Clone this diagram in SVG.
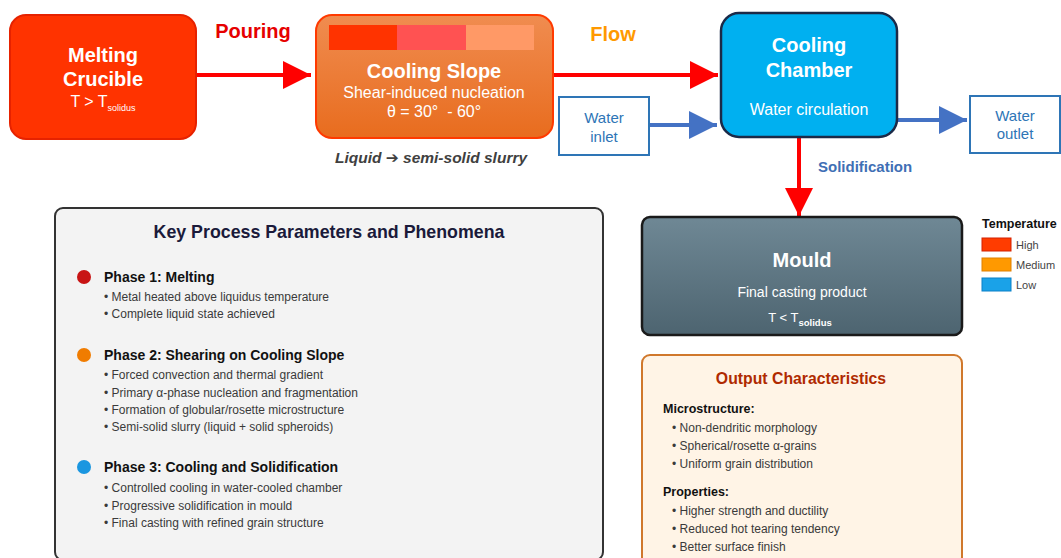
<svg xmlns="http://www.w3.org/2000/svg" width="1061" height="558" viewBox="0 0 1061 558">
  <defs>
    <linearGradient id="slopeGrad" x1="0" y1="0" x2="0" y2="1">
      <stop offset="0" stop-color="#f08c50"/>
      <stop offset="1" stop-color="#e86c1e"/>
    </linearGradient>
    <linearGradient id="mouldGrad" x1="0" y1="0" x2="0" y2="1">
      <stop offset="0" stop-color="#6f8895"/>
      <stop offset="1" stop-color="#4d6470"/>
    </linearGradient>
    <marker id="headRed" viewBox="0 0 10 10" refX="10" refY="5" markerWidth="7" markerHeight="7" markerUnits="strokeWidth" orient="auto">
      <path d="M0,0 L10,5 L0,10 Z" fill="#ff0000"/>
    </marker>
    <marker id="headBlue" viewBox="0 0 10 10" refX="10" refY="5" markerWidth="7" markerHeight="7" markerUnits="strokeWidth" orient="auto">
      <path d="M0,0 L10,5 L0,10 Z" fill="#4472c4"/>
    </marker>
  </defs>
  <style>
    text { font-family: "Liberation Sans", Arial, sans-serif; }
    .title { font-weight: bold; font-size: 20px; fill: #ffffff; text-anchor: middle; }
    .sub { font-size: 16px; fill: #ffffff; text-anchor: middle; }
    .water { font-size: 15px; fill: #2e75b6; text-anchor: middle; }
    .waterBox { fill: #ffffff; stroke: #2e75b6; stroke-width: 2; }
    .red { stroke: #ff0000; stroke-width: 4; fill: none; }
    .blue { stroke: #4472c4; stroke-width: 4; fill: none; }
    .phase { font-weight: bold; font-size: 14px; fill: #111111; }
    .bullet { font-size: 12px; fill: #3a3a3a; }
    .head { font-weight: bold; font-size: 12.5px; fill: #111111; }
    .legend { font-size: 11px; fill: #444444; }
  </style>

  <!-- connectors -->
  <g id="connectors">
    <line class="red" x1="196" y1="75" x2="311" y2="75" marker-end="url(#headRed)"/>
    <line class="red" x1="553" y1="75" x2="718" y2="75" marker-end="url(#headRed)"/>
    <line class="blue" x1="649" y1="125" x2="717" y2="125" marker-end="url(#headBlue)"/>
    <line class="blue" x1="897" y1="120" x2="967" y2="120" marker-end="url(#headBlue)"/>
    <line class="red" x1="799" y1="137" x2="799" y2="216" marker-end="url(#headRed)"/>
    <text x="253" y="38" font-weight="bold" font-size="20" fill="#e60000" text-anchor="middle">Pouring</text>
    <text x="613" y="41" font-weight="bold" font-size="20" fill="#ff9900" text-anchor="middle">Flow</text>
    <text x="818" y="172" font-weight="bold" font-size="15" fill="#3f6fb5">Solidification</text>
  </g>

  <!-- melting crucible -->
  <g id="crucible">
    <rect x="10" y="15" width="186" height="124" rx="16" fill="#ff3300" stroke="#e62200" stroke-width="2"/>
    <text class="title" x="103" y="62">Melting</text>
    <text class="title" x="103" y="86">Crucible</text>
    <text class="sub" x="103" y="107" font-size="13">T &gt; T<tspan font-size="9" dy="4">solidus</tspan></text>
  </g>

  <!-- cooling slope -->
  <g id="slope">
    <rect x="316" y="15" width="237" height="123" rx="16" fill="url(#slopeGrad)" stroke="#ff3a00" stroke-width="2"/>
    <rect x="329" y="25" width="68" height="25" fill="#ff3300"/>
    <rect x="397" y="25" width="69" height="25" fill="#ff5252"/>
    <rect x="466" y="25" width="68" height="25" fill="#ff9966"/>
    <text class="title" x="434" y="78">Cooling Slope</text>
    <text class="sub" x="434" y="98">Shear-induced nucleation</text>
    <text class="sub" x="434" y="117" style="white-space:pre">θ = 30°  - 60°</text>
    <text x="431" y="163" font-weight="bold" font-style="italic" font-size="15.5" fill="#404040" text-anchor="middle">Liquid <tspan font-family="DejaVu Sans, sans-serif" font-style="normal">➔</tspan> semi-solid slurry</text>
  </g>

  <!-- cooling chamber -->
  <g id="chamber">
    <rect x="721" y="13" width="176" height="124" rx="18" fill="#00b0f0" stroke="#1b2a48" stroke-width="2.5"/>
    <text class="title" x="809" y="52">Cooling</text>
    <text class="title" x="809" y="77">Chamber</text>
    <text class="sub" x="809" y="115">Water circulation</text>
  </g>

  <!-- water inlet -->
  <g id="inlet">
    <rect class="waterBox" x="559" y="97" width="90" height="58"/>
    <text class="water" x="604" y="123">Water</text>
    <text class="water" x="604" y="142">inlet</text>
  </g>

  <!-- water outlet -->
  <g id="outlet">
    <rect class="waterBox" x="970" y="96" width="90" height="57"/>
    <text class="water" x="1015" y="121">Water</text>
    <text class="water" x="1015" y="139">outlet</text>
  </g>

  <!-- mould -->
  <g id="mould">
    <rect x="642" y="217" width="320" height="118" rx="8" fill="url(#mouldGrad)" stroke="#1a1a1a" stroke-width="2.5"/>
    <text x="802" y="267" font-weight="bold" font-size="20" fill="#ffffff" text-anchor="middle">Mould</text>
    <text x="802" y="297" font-size="14" fill="#ffffff" text-anchor="middle">Final casting product</text>
    <text x="800" y="322" font-size="13" fill="#ffffff" text-anchor="middle">T &lt; T<tspan font-size="9.5" font-weight="bold" dy="4">solidus</tspan></text>
  </g>

  <!-- temperature legend -->
  <g id="legend">
    <text x="982" y="228" font-weight="bold" font-size="12.5" fill="#111111">Temperature</text>
    <rect x="982" y="238" width="29" height="13" fill="#ff3c00" stroke="#d42000" stroke-width="1"/>
    <rect x="982" y="258" width="29" height="13" fill="#ff9900" stroke="#e08000" stroke-width="1"/>
    <rect x="982" y="278" width="29" height="13" fill="#1aa2e8" stroke="#0a80c8" stroke-width="1"/>
    <text class="legend" x="1016" y="249">High</text>
    <text class="legend" x="1016" y="269">Medium</text>
    <text class="legend" x="1016" y="289">Low</text>
  </g>

  <!-- key process parameters panel -->
  <g id="parameters">
    <rect x="55" y="208" width="548" height="352" rx="8" fill="#f3f3f3" stroke="#333333" stroke-width="2"/>
    <text x="329" y="238" font-weight="bold" font-size="17.8" fill="#1a1a3a" text-anchor="middle">Key Process Parameters and Phenomena</text>

    <circle cx="84" cy="277" r="7" fill="#c81414"/>
    <text class="phase" x="104" y="282">Phase 1: Melting</text>
    <text class="bullet" x="104" y="301">• Metal heated above liquidus temperature</text>
    <text class="bullet" x="104" y="318">• Complete liquid state achieved</text>

    <circle cx="84" cy="355" r="7" fill="#f07c00"/>
    <text class="phase" x="104" y="360">Phase 2: Shearing on Cooling Slope</text>
    <text class="bullet" x="104" y="379">• Forced convection and thermal gradient</text>
    <text class="bullet" x="104" y="397">• Primary α-phase nucleation and fragmentation</text>
    <text class="bullet" x="104" y="414">• Formation of globular/rosette microstructure</text>
    <text class="bullet" x="104" y="431">• Semi-solid slurry (liquid + solid spheroids)</text>

    <circle cx="84" cy="467" r="7" fill="#1a96e0"/>
    <text class="phase" x="104" y="472">Phase 3: Cooling and Solidification</text>
    <text class="bullet" x="104" y="492">• Controlled cooling in water-cooled chamber</text>
    <text class="bullet" x="104" y="510">• Progressive solidification in mould</text>
    <text class="bullet" x="104" y="527">• Final casting with refined grain structure</text>
  </g>

  <!-- output characteristics panel -->
  <g id="output">
    <rect x="642" y="355" width="320" height="210" rx="8" fill="#fff4e6" stroke="#d0782c" stroke-width="2"/>
    <text x="801" y="384" font-weight="bold" font-size="15.8" fill="#b02a00" text-anchor="middle">Output Characteristics</text>
    <text class="head" x="663" y="413">Microstructure:</text>
    <text class="bullet" x="672" y="432">• Non-dendritic morphology</text>
    <text class="bullet" x="672" y="450">• Spherical/rosette α-grains</text>
    <text class="bullet" x="672" y="468">• Uniform grain distribution</text>
    <text class="head" x="663" y="496">Properties:</text>
    <text class="bullet" x="672" y="515">• Higher strength and ductility</text>
    <text class="bullet" x="672" y="533">• Reduced hot tearing tendency</text>
    <text class="bullet" x="672" y="551">• Better surface finish</text>
  </g>
</svg>
